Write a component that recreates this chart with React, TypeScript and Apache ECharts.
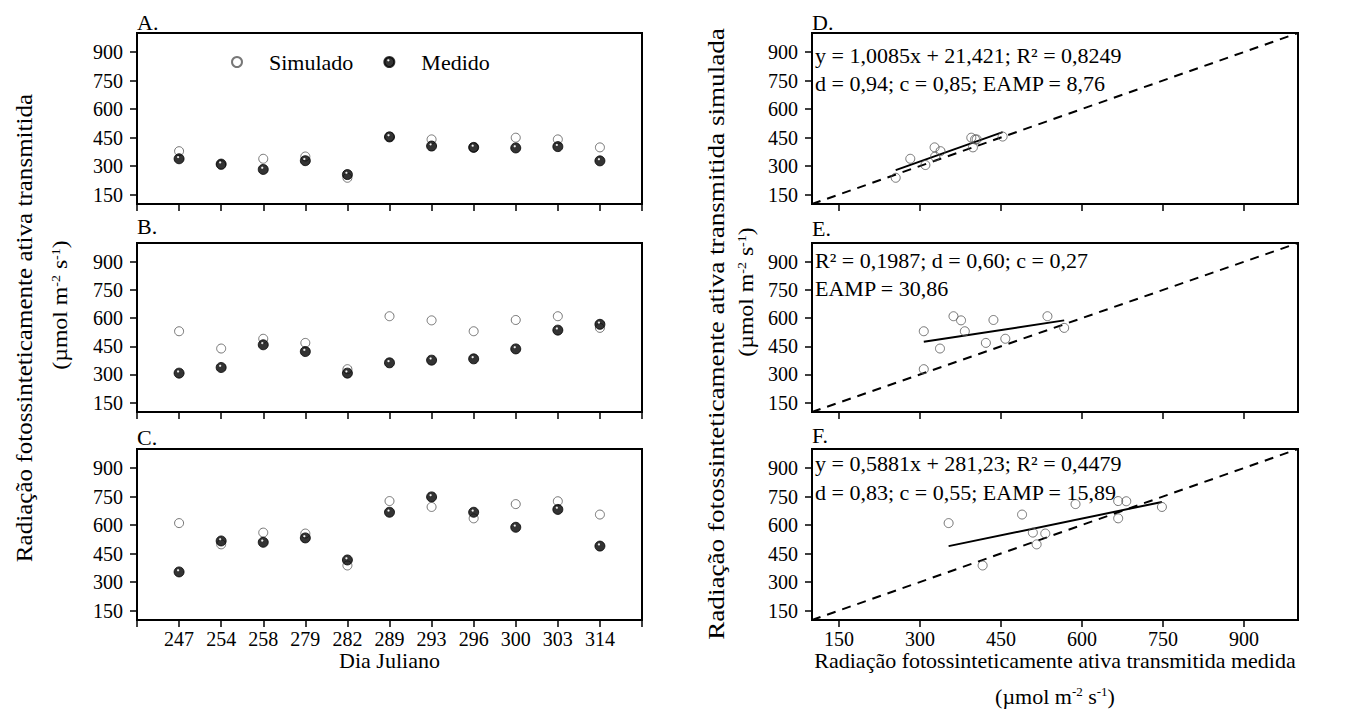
import React, { useEffect, useRef } from "react";
import * as echarts from "echarts";

// ---------- data ----------
const DAYS = ["247", "254", "258", "279", "282", "289", "293", "296", "300", "303", "314"];

const SIM_A = [378, 305, 338, 350, 238, 455, 440, 398, 449, 440, 398];
const MED_A = [338, 310, 282, 328, 255, 453, 405, 398, 395, 402, 327];

const SIM_B = [530, 438, 490, 468, 328, 610, 588, 530, 590, 610, 548];
const MED_B = [307, 337, 458, 422, 307, 362, 376, 383, 436, 536, 567];

const SIM_C = [610, 498, 560, 555, 387, 726, 695, 635, 710, 725, 655];
const MED_C = [353, 516, 509, 532, 416, 667, 748, 667, 588, 682, 489];

// regression lines (D and F from stated equations, E)
const REG_D = { slope: 1.0085, intercept: 21.421 };
const REG_F = { slope: 0.5881, intercept: 281.23 };
const TREND_E = [
  [307, 474],
  [567, 588],
];

const AXIS_RANGE = [100, 1000];
const Y_TICKS = [150, 300, 450, 600, 750, 900];
const X_TICKS = [150, 300, 450, 600, 750, 900];

const TEXT_D = ["y = 1,0085x + 21,421; R² = 0,8249", "d = 0,94; c = 0,85; EAMP = 8,76"];
const TEXT_E = ["R² = 0,1987; d = 0,60; c = 0,27", "EAMP = 30,86"];
const TEXT_F = ["y = 0,5881x + 281,23; R² = 0,4479", "d = 0,83; c = 0,55; EAMP = 15,89"];

// ---------- styling ----------
const SERIF = "Liberation Serif";
const LEFT_X = 137;
const LEFT_W = 505;
const RIGHT_X = 812;
const RIGHT_W = 486;
const ROWS = [
  { top: 33, height: 171 },
  { top: 243, height: 169 },
  { top: 449, height: 171 },
];

const openStyle = { color: "#fff", borderColor: "#555", borderWidth: 1 };
const filledColor = new echarts.graphic.RadialGradient(0.4, 0.33, 0.6, [
  { offset: 0, color: "#ffffff" },
  { offset: 0.1, color: "#dddddd" },
  { offset: 0.26, color: "#000000" },
  { offset: 1, color: "#000000" },
]);
const filledStyle = { color: filledColor, borderColor: "#000", borderWidth: 1 };

function regLine(xs: number[], slope: number, intercept: number) {
  const lo = Math.min(...xs);
  const hi = Math.max(...xs);
  return [
    [lo, slope * lo + intercept],
    [hi, slope * hi + intercept],
  ];
}

function buildOption() {
  const grids: any[] = [];
  const xAxes: any[] = [];
  const yAxes: any[] = [];
  const series: any[] = [];

  const tickLabel = { fontFamily: SERIF, fontSize: 20, color: "#000" };

  const leftSim = [SIM_A, SIM_B, SIM_C];
  const leftMed = [MED_A, MED_B, MED_C];
  ROWS.forEach((r, i) => {
    grids.push({
      left: LEFT_X,
      top: r.top,
      width: LEFT_W,
      height: r.height,
      show: true,
      borderColor: "#000",
      borderWidth: 2,
      backgroundColor: "transparent",
    });
    const last = i === 2;
    xAxes.push({
      type: "value",
      gridIndex: i,
      min: 0,
      max: 12,
      interval: 1,
      axisLine: { show: false },
      splitLine: { show: false },
      axisTick: { show: true, length: 7, lineStyle: { color: "#000", width: 1.5 } },
      axisLabel: {
        show: last,
        ...tickLabel,
        margin: 9,
        formatter: (v: number) => (v >= 1 && v <= 11 ? DAYS[v - 1] : ""),
      },
      name: last ? "Dia Juliano" : "",
      nameLocation: "middle",
      nameGap: 27,
      nameTextStyle: { fontFamily: SERIF, fontSize: 22, color: "#000", verticalAlign: "top" },
    });
    yAxes.push({
      type: "value",
      gridIndex: i,
      min: AXIS_RANGE[0],
      max: AXIS_RANGE[1],
      axisLine: { show: false },
      splitLine: { show: false },
      axisTick: { show: true, length: 7, customValues: Y_TICKS, lineStyle: { color: "#000", width: 1.5 } },
      axisLabel: { ...tickLabel, margin: 14, customValues: Y_TICKS },
    });
    series.push({
      name: "Simulado",
      type: "scatter",
      xAxisIndex: i,
      yAxisIndex: i,
      symbol: "circle",
      symbolSize: 9,
      itemStyle: openStyle,
      data: leftSim[i].map((v, k) => [k + 1, v]),
      z: 2,
    });
    series.push({
      name: "Medido",
      type: "scatter",
      xAxisIndex: i,
      yAxisIndex: i,
      symbol: "circle",
      symbolSize: 10,
      itemStyle: filledStyle,
      data: leftMed[i].map((v, k) => [k + 1, v]),
      z: 3,
    });
  });

  const trends = [
    regLine(MED_A, REG_D.slope, REG_D.intercept),
    TREND_E,
    regLine(MED_C, REG_F.slope, REG_F.intercept),
  ];
  ROWS.forEach((r, j) => {
    const i = j + 3;
    const last = j === 2;
    grids.push({
      left: RIGHT_X,
      top: r.top,
      width: RIGHT_W,
      height: r.height,
      show: true,
      borderColor: "#000",
      borderWidth: 2,
      backgroundColor: "transparent",
    });
    xAxes.push({
      type: "value",
      gridIndex: i,
      min: AXIS_RANGE[0],
      max: AXIS_RANGE[1],
      axisLine: { show: false },
      splitLine: { show: false },
      axisTick: { show: true, length: 7, customValues: X_TICKS, lineStyle: { color: "#000", width: 1.5 } },
      axisLabel: { show: last, ...tickLabel, margin: 9, customValues: X_TICKS },
      name: last ? "Radiação fotossinteticamente ativa transmitida medida" : "",
      nameLocation: "middle",
      nameGap: 27,
      nameTextStyle: { fontFamily: SERIF, fontSize: 22, color: "#000", verticalAlign: "top" },
    });
    yAxes.push({
      type: "value",
      gridIndex: i,
      min: AXIS_RANGE[0],
      max: AXIS_RANGE[1],
      axisLine: { show: false },
      splitLine: { show: false },
      axisTick: { show: true, length: 7, customValues: Y_TICKS, lineStyle: { color: "#000", width: 1.5 } },
      axisLabel: { ...tickLabel, margin: 14, customValues: Y_TICKS },
    });
    const meds = leftMed[j];
    const sims = leftSim[j];
    series.push({
      name: "1:1",
      type: "line",
      xAxisIndex: i,
      yAxisIndex: i,
      symbol: "none",
      lineStyle: { color: "#000", width: 2, type: [9, 7] },
      data: [
        [AXIS_RANGE[0], AXIS_RANGE[0]],
        [AXIS_RANGE[1], AXIS_RANGE[1]],
      ],
      z: 1,
    });
    series.push({
      name: "Ajuste",
      type: "line",
      xAxisIndex: i,
      yAxisIndex: i,
      symbol: "none",
      lineStyle: { color: "#000", width: 2 },
      data: trends[j],
      z: 2,
    });
    series.push({
      name: "Simulado x Medido",
      type: "scatter",
      xAxisIndex: i,
      yAxisIndex: i,
      symbol: "circle",
      symbolSize: 9,
      itemStyle: { color: "transparent", borderColor: "#555", borderWidth: 1 },
      data: meds.map((m, k) => [m, sims[k]]),
      z: 3,
    });
  });

  const txt = (text: string, x: number, y: number, extra: any = {}) => ({
    type: "text",
    x,
    y,
    style: {
      text,
      fontFamily: SERIF,
      fontSize: 22,
      fill: "#000",
      align: "left",
      verticalAlign: "middle",
      ...extra,
    },
    z: 10,
  });
  const rich = {
    sup: { fontFamily: SERIF, fontSize: 13, fill: "#000", verticalAlign: "top" },
  };
  const unitText = "(µmol m{sup|-2} s{sup|-1})";

  const graphic: any[] = [
    txt("A.", 137, 22),
    txt("B.", 137, 226),
    txt("C.", 137, 437),
    txt("D.", 812, 22),
    txt("E.", 812, 228),
    txt("F.", 812, 435),
    txt(TEXT_D[0], 815, 55),
    txt(TEXT_D[1], 815, 83),
    txt(TEXT_E[0], 815, 260),
    txt(TEXT_E[1], 815, 288),
    txt(TEXT_F[0], 815, 463),
    txt(TEXT_F[1], 815, 492),
    {
      ...txt("Radiação fotossinteticamente ativa transmitida", 24, 328, { align: "center", fontSize: 23 }),
      rotation: Math.PI / 2,
      scaleX: 1.09,
    },
    {
      ...txt(unitText, 60, 305, { align: "center", rich }),
      rotation: Math.PI / 2,
      scaleX: 1.08,
    },
    {
      ...txt("Radiação fotossinteticamente ativa transmitida simulada", 716, 334, { align: "center", fontSize: 23 }),
      rotation: Math.PI / 2,
      scaleX: 1.18,
    },
    {
      ...txt(unitText, 746, 292, { align: "center", rich }),
      rotation: Math.PI / 2,
      scaleX: 1.08,
    },
    txt(unitText, 1055, 696, { align: "center", rich }),
  ];

  return {
    animation: false,
    backgroundColor: "#fff",
    grid: grids,
    xAxis: xAxes,
    yAxis: yAxes,
    series,
    legend: {
      data: ["Simulado", "Medido"],
      left: 226,
      top: 46,
      itemWidth: 10,
      itemHeight: 10,
      itemGap: 30,
      selectedMode: false,
      textStyle: { fontFamily: SERIF, fontSize: 22, color: "#000", padding: [0, 0, 0, 22] },
    },
    graphic,
  };
}

export default function App() {
  const ref = useRef<HTMLDivElement>(null);
  useEffect(() => {
    document.body.style.margin = "0";
    const chart = echarts.init(ref.current as HTMLDivElement, null, { renderer: "svg" });
    chart.setOption(buildOption() as any);
    return () => chart.dispose();
  }, []);
  return (
    <div
      ref={ref}
      style={{ position: "absolute", left: 0, top: 0, width: 1365, height: 709, background: "#fff" }}
    />
  );
}
